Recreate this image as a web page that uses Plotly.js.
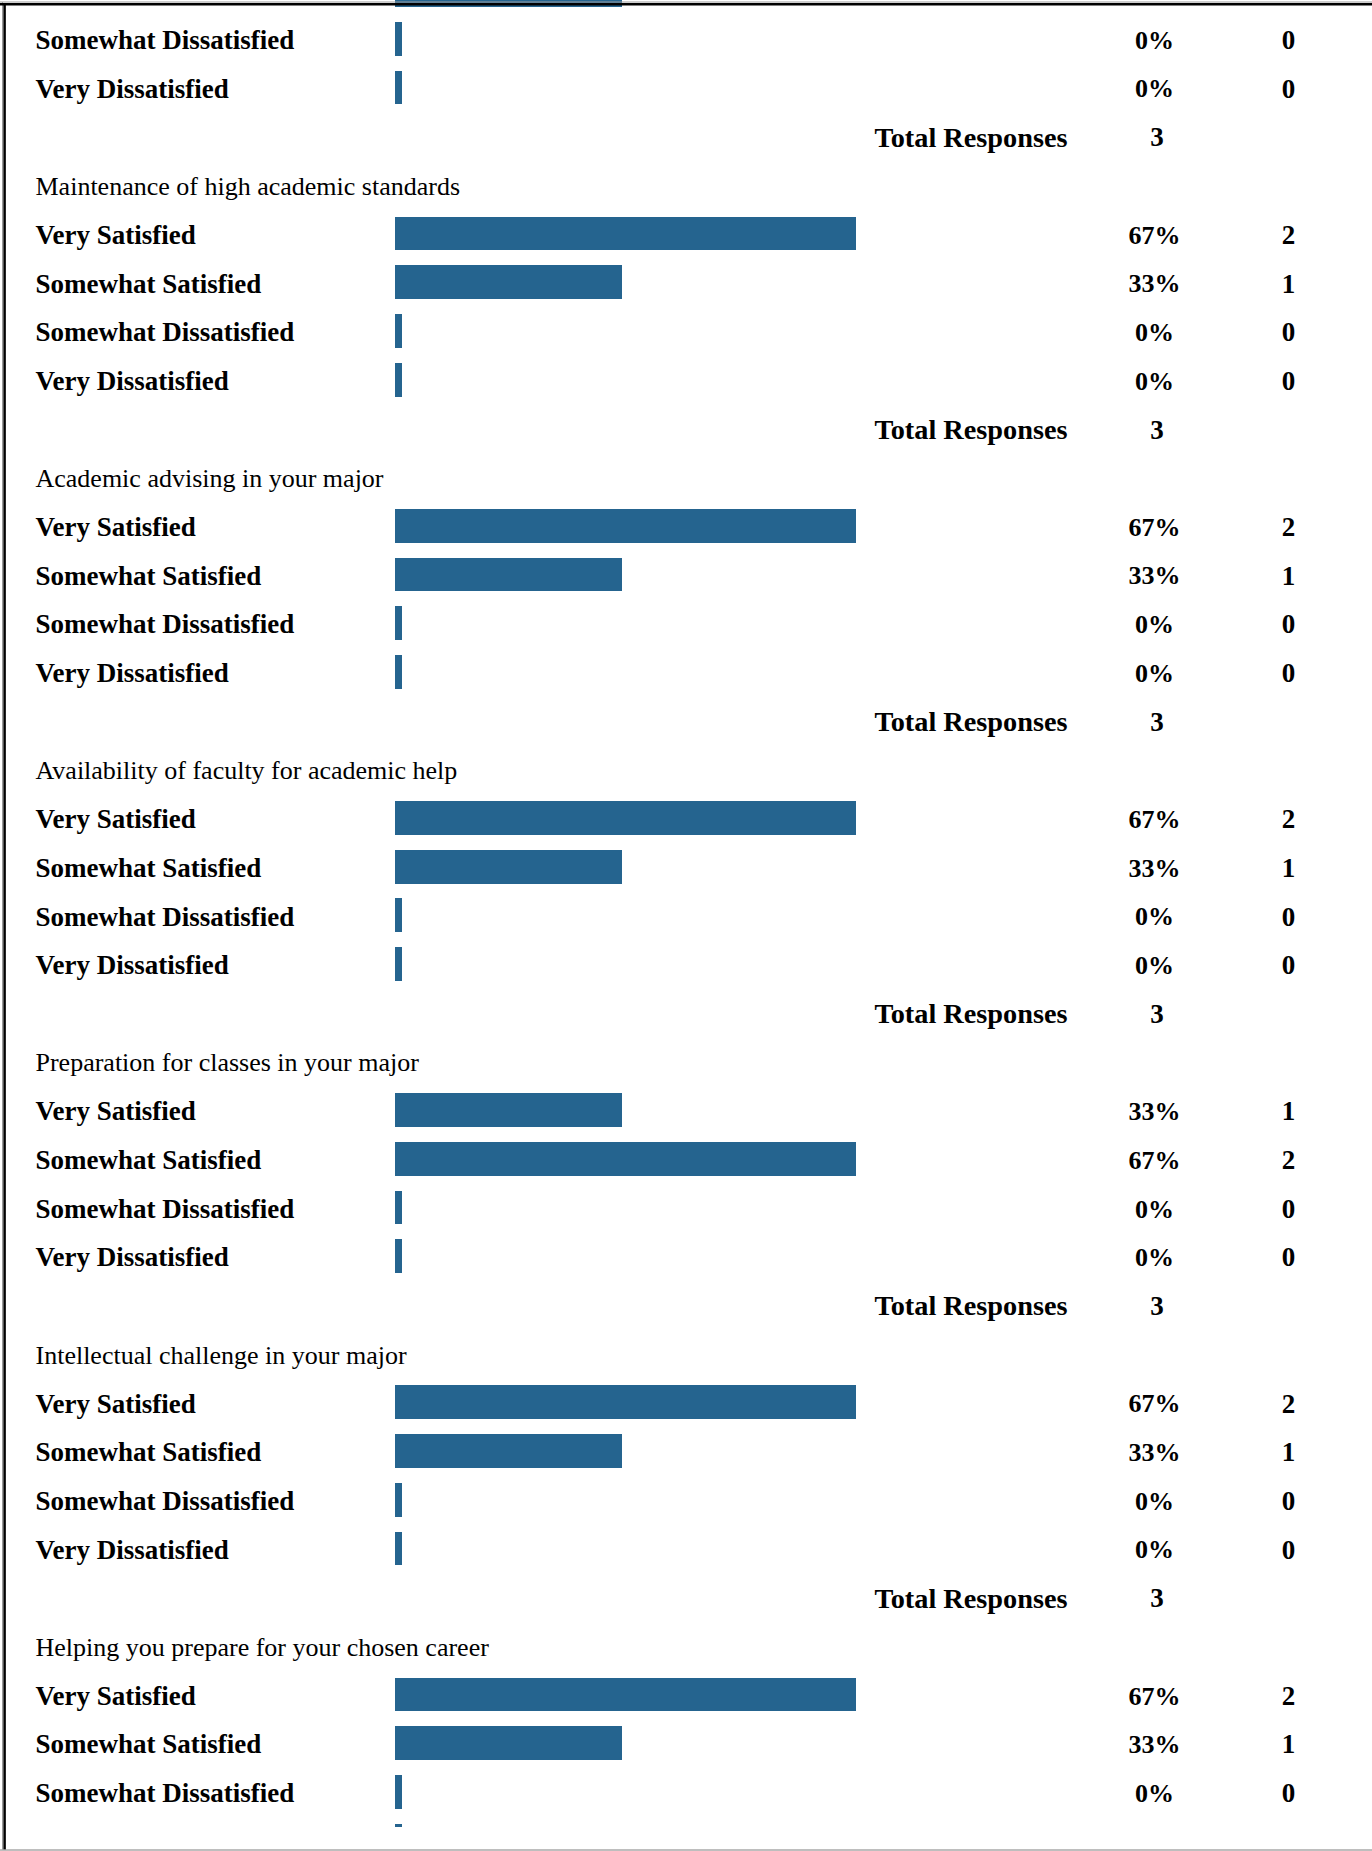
<!DOCTYPE html>
<html>
<head>
<meta charset="utf-8">
<script src="https://cdn.plot.ly/plotly-3.0.1.min.js"></script>
<style>
  html, body { margin: 0; padding: 0; background: #ffffff; }
  #chart { width: 1372px; height: 1851px; }
</style>
</head>
<body>
<div id="chart"></div>
<script>
// ---------------- DATA ----------------
// Survey items (the first item is only partly visible at the top of the page; its title is off-page)
const questions = [
  "",
  "Maintenance of high academic standards",
  "Academic advising in your major",
  "Availability of faculty for academic help",
  "Preparation for classes in your major",
  "Intellectual challenge in your major",
  "Helping you prepare for your chosen career"
];
const ratingLabels = ["Very Satisfied", "Somewhat Satisfied", "Somewhat Dissatisfied", "Very Dissatisfied"];

// Percent of responses per rating, one entry per item
const pctVerySatisfied        = [67, 67, 67, 67, 33, 67, 67];
const pctSomewhatSatisfied    = [33, 33, 33, 33, 67, 33, 33];
const pctSomewhatDissatisfied = [0, 0, 0, 0, 0, 0, 0];
const pctVeryDissatisfied     = [0, 0, 0, 0, 0, 0, 0];

// Response counts per rating
const cntVerySatisfied        = [2, 2, 2, 2, 1, 2, 2];
const cntSomewhatSatisfied    = [1, 1, 1, 1, 2, 1, 1];
const cntSomewhatDissatisfied = [0, 0, 0, 0, 0, 0, 0];
const cntVeryDissatisfied     = [0, 0, 0, 0, 0, 0, 0];

const totalResponses = [3, 3, 3, 3, 3, 3, 3];
const totalLabel = "Total Responses";

// ---------------- LAYOUT GEOMETRY ----------------
const W = 1372, H = 1851, BOTTOM = 24;
const PLOT_H = H - BOTTOM;
const ROW_PX = 48.697;
const TOP_ROW = 9.9 / ROW_PX;
const BOT_ROW = TOP_ROW + PLOT_H / ROW_PX;
const TEXT_SHIFT = 3.5 / ROW_PX;
const PX_PER_PCT = 6.88, BAR_LEFT = 395;
const xr = [-BAR_LEFT / PX_PER_PCT, (W - BAR_LEFT) / PX_PER_PCT];

// a text row is drawn only when it lies fully inside the page area
const rowVisible = r => {
  const c = (r - TOP_ROW) * ROW_PX;
  return c - 14 >= 0 && c + 14 <= PLOT_H;
};

// ---------------- BUILD ROWS ----------------
const pctByRating = [pctVerySatisfied, pctSomewhatSatisfied, pctSomewhatDissatisfied, pctVeryDissatisfied];
const cntByRating = [cntVerySatisfied, cntSomewhatSatisfied, cntSomewhatDissatisfied, cntVeryDissatisfied];
const ROWS_PER_ITEM = 6;            // title, 4 ratings, total
const FIRST_TITLE_ROW = -2;         // first item's title sits above the page
const MIN_BAR = 1;                  // renderer draws a thin stub for 0% answers

const barY = [], barX = [], barPct = [];
const labY = [], labT = [];
const pctY = [], pctT = [];
const cntY = [], cntT = [];
const titY = [], titT = [];
const totY = [], totT = [], totVY = [], totVT = [];

questions.forEach((q, s) => {
  const base = FIRST_TITLE_ROW + s * ROWS_PER_ITEM;
  if (rowVisible(base)) { titY.push(base); titT.push(q); }
  ratingLabels.forEach((lab, i) => {
    const r = base + 1 + i;
    const p = pctByRating[i][s];
    barY.push(r); barX.push(Math.max(p, MIN_BAR)); barPct.push(p);
    if (rowVisible(r)) {
      labY.push(r); labT.push(lab);
      pctY.push(r); pctT.push(p + "%");
      cntY.push(r); cntT.push(String(cntByRating[i][s]));
    }
  });
  const rt = base + 5;
  if (rowVisible(rt)) {
    totY.push(rt); totT.push(totalLabel);
    totVY.push(rt); totVT.push(String(totalResponses[s]));
  }
});

const fx = px => px / W;
const fy = py => 1 - py / PLOT_H;

const serif = 'Liberation Serif, Times New Roman, Times, serif';
const barColor = '#25648F';

const colX = { label: fx(35.5), pct: fx(1154.5), cnt: fx(1288.5), totLab: fx(971), totVal: fx(1157) };
const rep = (v, n) => Array(n).fill(v);

const textTrace = (ys, ts, x, pos, weight, size) => ({
  type: 'scatter', mode: 'text', xaxis: 'x2', yaxis: 'y2',
  x: rep(x, ys.length), y: ys, text: ts,
  textposition: pos, cliponaxis: true, hoverinfo: 'skip',
  textfont: { family: serif, size: size, color: '#000000', weight: weight },
  showlegend: false
});

const data = [
  {
    type: 'bar', orientation: 'h', x: barX, y: barY, width: 0.692,
    customdata: barPct, hovertemplate: '%{customdata}%<extra></extra>',
    marker: { color: barColor, line: { width: 0 } }, showlegend: false
  },
  textTrace(titY, titT, colX.label, 'middle right', 'normal', 26),
  textTrace(labY, labT, colX.label, 'middle right', 'bold', 27),
  textTrace(pctY, pctT, colX.pct, 'middle center', 'bold', 26),
  textTrace(cntY, cntT, colX.cnt, 'middle center', 'bold', 27),
  textTrace(totY, totT, colX.totLab, 'middle center', 'bold', 28.3),
  textTrace(totVY, totVT, colX.totVal, 'middle center', 'bold', 27)
];

const line = (x0, y0, x1, y1, color, w) => ({
  type: 'line', xref: 'paper', yref: 'paper', x0: x0, y0: y0, x1: x1, y1: y1,
  line: { color: color, width: w }, layer: 'above'
});

const layout = {
  width: W, height: H,
  margin: { l: 0, r: 0, t: 0, b: BOTTOM, pad: 0 },
  paper_bgcolor: '#ffffff', plot_bgcolor: '#ffffff',
  showlegend: false, bargap: 0,
  xaxis: { range: xr, visible: false, fixedrange: true },
  xaxis2: { range: [0, 1], overlaying: 'x', visible: false, fixedrange: true },
  yaxis: { range: [BOT_ROW, TOP_ROW], visible: false, fixedrange: true },
  yaxis2: { range: [BOT_ROW - TEXT_SHIFT, TOP_ROW - TEXT_SHIFT], overlaying: 'y', visible: false, fixedrange: true },
  shapes: [
    line(0, fy(2), 1, fy(2), '#9a9a9a', 1),
    line(fx(2.5), fy(2), fx(2.5), fy(1850), '#9a9a9a', 1),
    line(0, fy(4.2), 1, fy(4.2), '#000000', 2.5),
    line(fx(4.6), fy(3), fx(4.6), fy(1850), '#000000', 2.5),
    line(0, fy(1850), 1, fy(1850), '#a8a8a8', 1.5)
  ]
};

Plotly.newPlot('chart', data, layout, { displayModeBar: false, staticPlot: true });
</script>
</body>
</html>
